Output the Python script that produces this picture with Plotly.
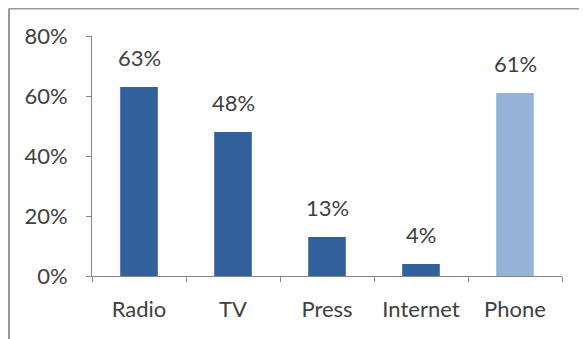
import plotly.graph_objects as go

categories = ["Radio", "TV", "Press", "Internet", "Phone"]
values = [63, 48, 13, 4, 61]
bar_colors = ["#32609A", "#32609A", "#32609A", "#32609A", "#95B3D7"]
y_tick_vals = [0, 20, 40, 60, 80]
y_tick_text = ["0%", "20%", "40%", "60%", "80%"]

FONT = "Lato"
TXT = "#404040"
FS = 22

# page body has an 8px margin: figure placed at (8, 8)
W, H = 579, 331
L, R, T, B = 84, 25, 28, 63
PH = H - T - B
PW = W - L - R

fig = go.Figure(go.Bar(
    x=categories,
    y=values,
    marker=dict(color=bar_colors, line=dict(width=0)),
    width=0.4,
    hoverinfo="x+y",
))

for c, v in zip(categories, values):
    fig.add_annotation(x=c, y=v, text=f"{v}%", showarrow=False,
                       xanchor="center", yanchor="bottom", yshift=14,
                       font=dict(family=FONT, size=FS, color=TXT))

fig.update_layout(
    width=W, height=H,
    margin=dict(l=L, r=R, t=T, b=B),
    paper_bgcolor="white", plot_bgcolor="white",
    showlegend=False,
    font=dict(family=FONT, size=FS, color=TXT),
    xaxis=dict(
        showline=True, linecolor="#868686", linewidth=1,
        ticks="outside", ticklen=5, tickcolor="#868686",
        tickson="boundaries", showgrid=False,
        tickfont=dict(family=FONT, size=FS, color=TXT),
        ticklabelstandoff=14,
        automargin=False,
    ),
    yaxis=dict(
        range=[0, 80], tickvals=y_tick_vals, ticktext=y_tick_text,
        showline=True, linecolor="#868686", linewidth=1,
        ticks="outside", ticklen=5, tickcolor="#868686",
        showgrid=False, zeroline=False,
        tickfont=dict(family=FONT, size=FS, color=TXT),
        ticklabelstandoff=14,
        automargin=False,
    ),
    shapes=[
        dict(type="line", xref="paper", yref="paper",
             x0=-(L - 1) / PW, x1=(PW + R) / PW,
             y0=1 + (T - 0.5) / PH, y1=1 + (T - 0.5) / PH,
             line=dict(color="#9a9a9a", width=2)),
        dict(type="line", xref="paper", yref="paper",
             x0=-(L - 1) / PW, x1=-(L - 1) / PW,
             y0=1 + (T - 0.5) / PH, y1=-B / PH,
             line=dict(color="#9a9a9a", width=2)),
    ],
)

fig.write_html("out.html")
